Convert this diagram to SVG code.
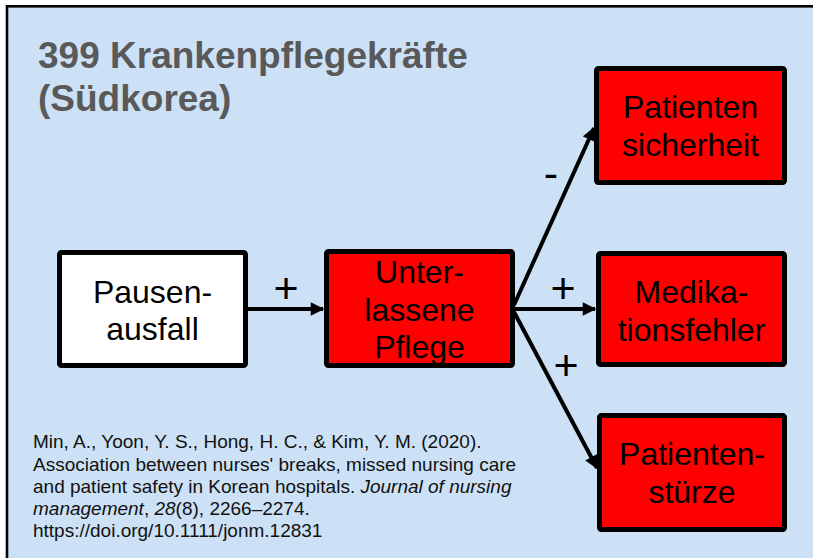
<svg xmlns="http://www.w3.org/2000/svg" width="813" height="558" viewBox="0 0 813 558">
<defs>
<style>
.box{stroke:#000;stroke-width:5;}
.red{fill:#ff0000;}
.white{fill:#ffffff;}
.bt{font-family:"Liberation Sans",Arial,sans-serif;font-size:32px;fill:#000;text-anchor:middle;}
.sign{font-family:"Liberation Sans",Arial,sans-serif;font-size:43px;fill:#000;text-anchor:middle;}
.title{font-family:"Liberation Sans",Arial,sans-serif;font-size:37px;font-weight:bold;fill:#595959;}
.cite{font-family:"Liberation Sans",Arial,sans-serif;font-size:19px;fill:#111;}
.conn{stroke:#000;stroke-width:4;fill:none;marker-end:url(#ah);}
</style>
<marker id="ah" viewBox="0 0 10 10" refX="9" refY="5" markerWidth="3.6" markerHeight="3.4" orient="auto" markerUnits="strokeWidth">
<path d="M0,0 L10,5 L0,10 z" fill="#000"/>
</marker>
</defs>
<rect x="7" y="6.3" width="900" height="700" fill="#cce1f5" stroke="#000" stroke-width="2.6"/>
<g id="title">
<text class="title" x="38" y="68">399 Krankenpflegekräfte</text>
<text class="title" x="38" y="111">(Südkorea)</text>
</g>
<g id="connectors">
<line class="conn" x1="248" y1="309" x2="323" y2="309"/>
<line class="conn" x1="515" y1="309" x2="595" y2="309"/>
<line class="conn" x1="514" y1="305" x2="594" y2="128"/>
<line class="conn" x1="514" y1="312" x2="597" y2="468"/>
<text class="sign" x="286" y="303">+</text>
<text class="sign" x="563" y="303">+</text>
<text class="sign" x="566" y="380">+</text>
<text class="sign" x="551" y="188">-</text>
</g>
<g id="pausenausfall">
<rect class="box white" x="59.5" y="252.5" width="186" height="113" rx="2"/>
<text class="bt" x="152.5" y="303">Pausen-</text>
<text class="bt" x="152.5" y="340">ausfall</text>
</g>
<g id="unterlassene-pflege">
<rect class="box red" x="326.5" y="251.5" width="186" height="114" rx="2"/>
<text class="bt" x="419.5" y="283">Unter-</text>
<text class="bt" x="419.5" y="321">lassene</text>
<text class="bt" x="419.5" y="358">Pflege</text>
</g>
<g id="patientensicherheit">
<rect class="box red" x="596.5" y="68.5" width="188" height="114" rx="2"/>
<text class="bt" x="690.5" y="118">Patienten</text>
<text class="bt" x="690.5" y="156">sicherheit</text>
</g>
<g id="medikationsfehler">
<rect class="box red" x="598.5" y="253.5" width="186" height="111" rx="2"/>
<text class="bt" x="691.5" y="303">Medika-</text>
<text class="bt" x="691.5" y="341">tionsfehler</text>
</g>
<g id="patientenstuerze">
<rect class="box red" x="599.5" y="415.5" width="185" height="114" rx="2"/>
<text class="bt" x="692" y="465">Patienten-</text>
<text class="bt" x="692" y="503">stürze</text>
</g>
<g id="citation">
<text class="cite" x="33" y="448">Min, A., Yoon, Y. S., Hong, H. C., &amp; Kim, Y. M. (2020).</text>
<text class="cite" x="33" y="471">Association between nurses' breaks, missed nursing care</text>
<text class="cite" x="33" y="493">and patient safety in Korean hospitals. <tspan font-style="italic">Journal of nursing</tspan></text>
<text class="cite" x="33" y="515"><tspan font-style="italic">management</tspan>, <tspan font-style="italic">28</tspan>(8), 2266–2274.</text>
<text class="cite" x="33" y="537">https://doi.org/10.1111/jonm.12831</text>
</g>
</svg>
